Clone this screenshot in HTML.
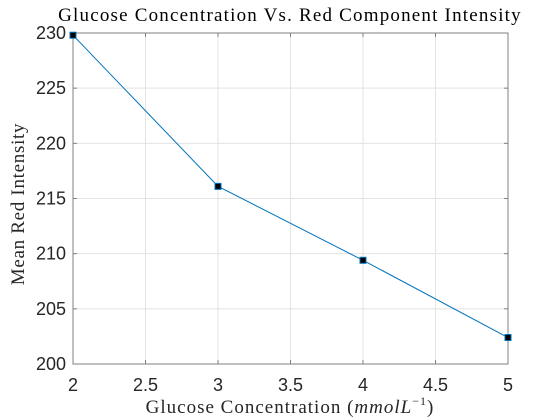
<!DOCTYPE html>
<html><head><meta charset="utf-8"><style>
body{margin:0;background:#fff;}
svg{display:block;}
</style></head><body>
<svg id="chart" width="560" height="420" xmlns="http://www.w3.org/2000/svg">
<rect x="0" y="0" width="560" height="420" fill="#fff"/>
<g id="grid"></g>
<g id="ticks"></g>
<rect x="73" y="33" width="435" height="331" fill="none" stroke="#808080" stroke-width="1"/>
<g id="series"></g>
<text x="290" y="21" text-anchor="middle" font-family="Liberation Serif, serif" font-size="19" letter-spacing="1.2" fill="#000">Glucose Concentration Vs. Red Component Intensity</text>
<text x="290" y="413" text-anchor="middle" font-family="Liberation Serif, serif" font-size="19" letter-spacing="1" fill="#262626">Glucose Concentration (<tspan font-style="italic">mmolL</tspan><tspan font-size="12" dy="-8">−1</tspan><tspan dy="8">)</tspan></text>
<text transform="translate(24,204) rotate(-90)" text-anchor="middle" font-family="Liberation Serif, serif" font-size="19" letter-spacing="0.7" fill="#262626">Mean Red Intensity</text>
</svg>
<script>
const categories=[2,3,4,5];
const redIntensity=[229.8,216.1,209.4,202.4];
const xTicks=[2,2.5,3,3.5,4,4.5,5];
const yTicks=[200,205,210,215,220,225,230];
const L=73,R=508,T=33,B=364;
const xs=v=>L+(v-2)/3*(R-L);
const ys=v=>B-(v-200)/30*(B-T);
const NS='http://www.w3.org/2000/svg';
function mk(tag,attrs,parent,txt){const e=document.createElementNS(NS,tag);for(const k in attrs)e.setAttribute(k,attrs[k]);if(txt!==undefined)e.textContent=txt;document.getElementById(parent).appendChild(e);return e;}
xTicks.forEach(t=>{const x=xs(t);
let g=mk('line',{x1:x,x2:x,y1:T,y2:B,stroke:'#e3e3e3','stroke-width':1},'grid');


mk('line',{x1:x,x2:x,y1:B,y2:B-4,stroke:'#808080'},'ticks');
mk('line',{x1:x,x2:x,y1:T,y2:T+4,stroke:'#808080'},'ticks');
let l=mk('text',{x:x,y:B+27,'text-anchor':'middle','font-family':'Liberation Sans, sans-serif','font-size':18,fill:'#262626'},'ticks',String(t));


});
yTicks.forEach(t=>{const y=ys(t);
let g=mk('line',{x1:L,x2:R,y1:y,y2:y,stroke:'#e3e3e3','stroke-width':1},'grid');


mk('line',{x1:L,x2:L+4,y1:y,y2:y,stroke:'#808080'},'ticks');
mk('line',{x1:R,x2:R-4,y1:y,y2:y,stroke:'#808080'},'ticks');
let l=mk('text',{x:L-7,y:y+6,'text-anchor':'end','font-family':'Liberation Sans, sans-serif','font-size':18,fill:'#262626'},'ticks',String(t));


});
const pts=categories.map((c,i)=>xs(c)+','+ys(redIntensity[i])).join(' ');
const pl=mk('polyline',{points:pts,fill:'none',stroke:'#0072bd','stroke-width':1},'series');


categories.forEach((c,i)=>{
const m=mk('rect',{x:xs(c)-3,y:ys(redIntensity[i])-3,width:6,height:6,fill:'#000',stroke:'#0072bd','stroke-width':1},'series');


});
</script>
</body></html>
